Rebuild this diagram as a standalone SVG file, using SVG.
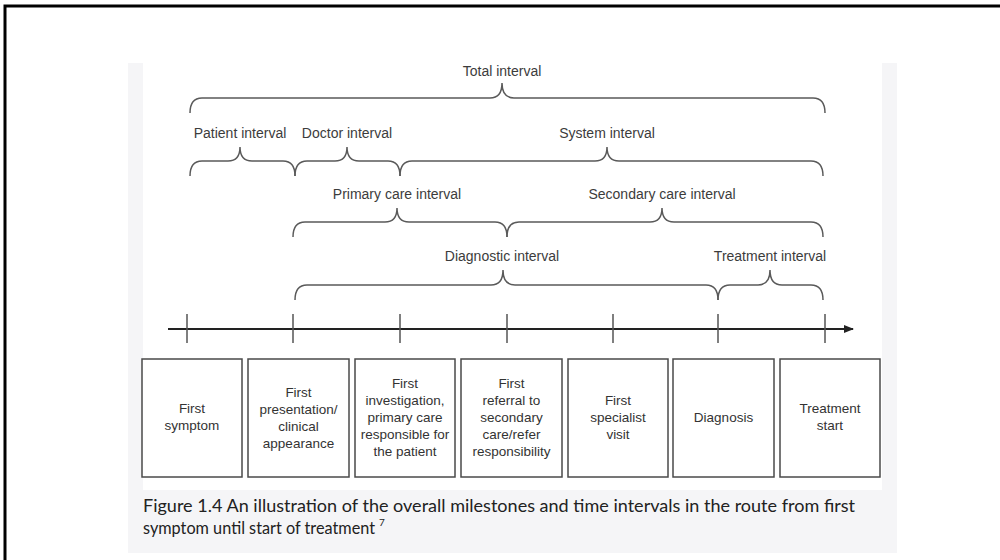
<svg xmlns="http://www.w3.org/2000/svg" width="1000" height="560" viewBox="0 0 1000 560">
<defs>
<style>
.bk{fill:none;stroke:#5a5a5a;stroke-width:1.5}
.lbl{font-family:"Liberation Sans",Arial,sans-serif;font-size:14px;fill:#3c3c3c;text-anchor:middle}
.box{fill:#fff;stroke:#4a4a4a;stroke-width:1.5}
.bt{font-family:"Liberation Sans",Arial,sans-serif;font-size:13.5px;fill:#333;text-anchor:middle}
.tick{stroke:#555;stroke-width:1.5}
.cap{font-family:Lato,"Open Sans",sans-serif;font-size:16.5px;fill:#222}
</style>
<marker id="arr" viewBox="0 0 10 8" refX="9" refY="4" markerWidth="10" markerHeight="8" markerUnits="userSpaceOnUse" orient="auto">
<path d="M0 0 L10 4 L0 8 Z" fill="#222"/>
</marker>
</defs>
<rect width="1000" height="560" fill="#fff"/>
<path d="M5 562 V6 H1002" fill="none" stroke="#000" stroke-width="3"/>
<rect x="128" y="63" width="769" height="490" fill="#f5f5f7"/>
<rect x="143" y="63" width="739" height="427" fill="#fff"/>

<g id="total-interval">
<path class="bk" d="M190 113 Q190 98 202 98 L490 98 Q502 98 502 83 Q502 98 514 98 L813 98 Q825 98 825 113"/>
<text class="lbl" x="502" y="76">Total interval</text>
</g>
<g id="patient-interval">
<path class="bk" d="M190 176 Q190 161 202 161 L228 161 Q240 161 240 147 Q240 161 252 161 L283 161 Q295 161 295 176"/>
<text class="lbl" x="240" y="138">Patient interval</text>
</g>
<g id="doctor-interval">
<path class="bk" d="M295 176 Q295 161 307 161 L335 161 Q347 161 347 147 Q347 161 359 161 L388 161 Q400 161 400 176"/>
<text class="lbl" x="347" y="138">Doctor interval</text>
</g>
<g id="system-interval">
<path class="bk" d="M400 176 Q400 161 412 161 L595 161 Q607 161 607 147 Q607 161 619 161 L811 161 Q823 161 823 176"/>
<text class="lbl" x="607" y="138">System interval</text>
</g>
<g id="primary-care-interval">
<path class="bk" d="M293 237 Q293 222 305 222 L385 222 Q397 222 397 208 Q397 222 409 222 L495 222 Q507 222 507 237"/>
<text class="lbl" x="397" y="199">Primary care interval</text>
</g>
<g id="secondary-care-interval">
<path class="bk" d="M507 237 Q507 222 519 222 L650 222 Q662 222 662 208 Q662 222 674 222 L811 222 Q823 222 823 237"/>
<text class="lbl" x="662" y="199">Secondary care interval</text>
</g>
<g id="diagnostic-interval">
<path class="bk" d="M295 300 Q295 285 307 285 L491 285 Q503 285 503 270 Q503 285 515 285 L706 285 Q718 285 718 300"/>
<text class="lbl" x="502" y="261">Diagnostic interval</text>
</g>
<g id="treatment-interval">
<path class="bk" d="M718 300 Q718 285 730 285 L758 285 Q770 285 770 270 Q770 285 782 285 L811 285 Q823 285 823 300"/>
<text class="lbl" x="770" y="261">Treatment interval</text>
</g>

<g id="connectors">
<line x1="168" y1="329" x2="853" y2="329" stroke="#222" stroke-width="2" marker-end="url(#arr)"/>
<line class="tick" x1="187" y1="314" x2="187" y2="343"/>
<line class="tick" x1="293" y1="314" x2="293" y2="343"/>
<line class="tick" x1="400" y1="314" x2="400" y2="343"/>
<line class="tick" x1="507" y1="314" x2="507" y2="343"/>
<line class="tick" x1="613" y1="314" x2="613" y2="343"/>
<line class="tick" x1="718" y1="314" x2="718" y2="343"/>
<line class="tick" x1="825" y1="314" x2="825" y2="343"/>
</g>

<g id="first-symptom">
<rect class="box" x="142" y="359" width="100" height="118"/>
<text class="bt"><tspan x="192" y="413">First</tspan><tspan x="192" y="430">symptom</tspan></text>
</g>
<g id="first-presentation">
<rect class="box" x="248" y="359" width="101" height="118"/>
<text class="bt"><tspan x="298.5" y="397">First</tspan><tspan x="298.5" y="414">presentation/</tspan><tspan x="298.5" y="431">clinical</tspan><tspan x="298.5" y="448">appearance</tspan></text>
</g>
<g id="first-investigation">
<rect class="box" x="355" y="359" width="100" height="118"/>
<text class="bt"><tspan x="405" y="388">First</tspan><tspan x="405" y="405">investigation,</tspan><tspan x="405" y="422">primary care</tspan><tspan x="405" y="439">responsible for</tspan><tspan x="405" y="456">the patient</tspan></text>
</g>
<g id="first-referral">
<rect class="box" x="461" y="359" width="101" height="118"/>
<text class="bt"><tspan x="511.5" y="388">First</tspan><tspan x="511.5" y="405">referral to</tspan><tspan x="511.5" y="422">secondary</tspan><tspan x="511.5" y="439">care/refer</tspan><tspan x="511.5" y="456">responsibility</tspan></text>
</g>
<g id="first-specialist-visit">
<rect class="box" x="568" y="359" width="100" height="118"/>
<text class="bt"><tspan x="618" y="405">First</tspan><tspan x="618" y="422">specialist</tspan><tspan x="618" y="439">visit</tspan></text>
</g>
<g id="diagnosis">
<rect class="box" x="673" y="359" width="101" height="118"/>
<text class="bt"><tspan x="723.5" y="422">Diagnosis</tspan></text>
</g>
<g id="treatment-start">
<rect class="box" x="780" y="359" width="100" height="118"/>
<text class="bt"><tspan x="830" y="413">Treatment</tspan><tspan x="830" y="430">start</tspan></text>
</g>

<g id="caption">
<text class="cap" x="143" y="512" textLength="712" lengthAdjust="spacingAndGlyphs">Figure 1.4 An illustration of the overall milestones and time intervals in the route from first</text>
<text class="cap" x="143" y="534"><tspan textLength="232" lengthAdjust="spacingAndGlyphs">symptom until start of treatment</tspan><tspan dx="4" dy="-8" font-size="10px">7</tspan></text>
</g>
</svg>
